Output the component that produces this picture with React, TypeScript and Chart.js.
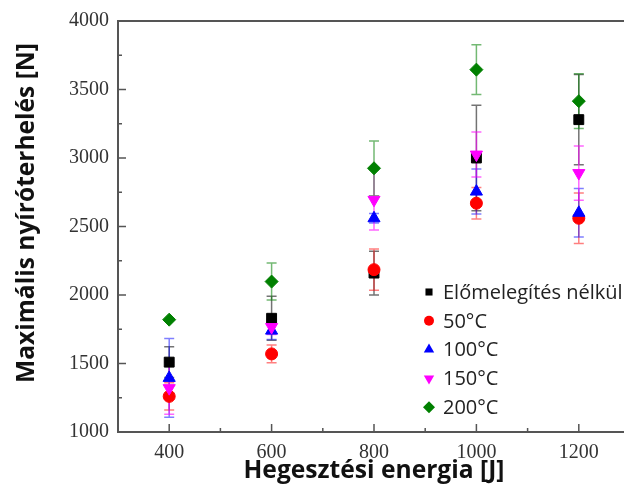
import { useEffect, useRef } from "react";
import { Chart, registerables } from "chart.js";

Chart.register(...registerables);

// Welding energy [J]
const energies = [400, 600, 800, 1000, 1200];
const xTicks = [400, 600, 800, 1000, 1200];

const seriesNames = ["Előmelegítés nélkül", "50°C", "100°C", "150°C", "200°C"];

// Maximum shear load [N] and standard deviation per preheat temperature
const noPreheat = [1510, 1830, 2160, 3000, 3280];
const noPreheatErr = [112, 160, 160, 385, 330];
const temp50 = [1260, 1570, 2185, 2670, 2560];
const temp50Err = [100, 65, 150, 115, 184];
const temp100 = [1395, 1740, 2560, 2755, 2600];
const temp100Err = [288, 65, 35, 164, 177];
const temp150 = [1320, 1766, 2695, 3025, 2890];
const temp150Err = [190, 55, 220, 164, 198];
const temp200 = [1820, 2098, 2925, 3645, 3415];
const temp200Err = [0, 135, 200, 182, 200];

const values = [noPreheat, temp50, temp100, temp150, temp200];
const errors = [noPreheatErr, temp50Err, temp100Err, temp150Err, temp200Err];

const colors = ["#000000", "#ff0000", "#0000ff", "#ff00ff", "#008000"];
const errColors = [
  "rgba(0,0,0,0.55)",
  "rgba(255,0,0,0.5)",
  "rgba(0,0,255,0.5)",
  "rgba(255,0,255,0.6)",
  "rgba(0,128,0,0.55)",
];
const styles = ["rect", "circle", "triangle", "triangle", "rectRot"];
const rotations = [0, 0, 0, 180, 0];
const radii = [7, 6, 7, 7, 6.5];
const legendRadii = [5, 5, 6, 6, 6];

const axisColor = "#555";

function drawMarker(ctx: CanvasRenderingContext2D, style: string, rot: number, r: number, x: number, y: number) {
  ctx.beginPath();
  if (style === "rect") {
    const s = Math.SQRT1_2 * r;
    ctx.rect(x - s, y - s, 2 * s, 2 * s);
  } else if (style === "circle") {
    ctx.arc(x, y, r, 0, Math.PI * 2);
  } else if (style === "triangle") {
    const base = (rot * Math.PI) / 180 - Math.PI / 2;
    for (let k = 0; k < 3; k++) {
      const ang = base + (k * 2 * Math.PI) / 3;
      const px = x + Math.cos(ang) * r;
      const py = y + Math.sin(ang) * r;
      if (k === 0) ctx.moveTo(px, py);
      else ctx.lineTo(px, py);
    }
    ctx.closePath();
  } else {
    ctx.moveTo(x - r, y);
    ctx.lineTo(x, y - r);
    ctx.lineTo(x + r, y);
    ctx.lineTo(x, y + r);
    ctx.closePath();
  }
  ctx.fill();
}

function fitFont(ctx: CanvasRenderingContext2D, text: string, target: number, base: number, weight: string) {
  ctx.font = `${weight} ${base}px "Open Sans"`;
  const w = ctx.measureText(text).width;
  const size = Math.max(16, Math.min(28, (base * target) / w));
  ctx.font = `${weight} ${size}px "Open Sans"`;
}

const errorBarPlugin = {
  id: "errorBars",
  beforeDatasetsDraw(chart: any) {
    const { ctx } = chart;
    const xs = chart.scales.x;
    const ys = chart.scales.y;
    ctx.save();
    ctx.lineWidth = 1.5;
    values.forEach((series, i) => {
      ctx.strokeStyle = errColors[i];
      series.forEach((v, j) => {
        const e = errors[i][j];
        if (!e) return;
        const px = xs.getPixelForValue(energies[j]);
        const top = ys.getPixelForValue(v + e);
        const bot = ys.getPixelForValue(v - e);
        ctx.beginPath();
        ctx.moveTo(px, top);
        ctx.lineTo(px, bot);
        ctx.moveTo(px - 5, top);
        ctx.lineTo(px + 5, top);
        ctx.moveTo(px - 5, bot);
        ctx.lineTo(px + 5, bot);
        ctx.stroke();
      });
    });
    ctx.restore();
  },
};

const framePlugin = {
  id: "frame",
  afterDraw(chart: any) {
    const { ctx, chartArea: a } = chart;
    const xs = chart.scales.x;
    const ys = chart.scales.y;
    ctx.save();
    ctx.strokeStyle = axisColor;
    ctx.lineWidth = 2;
    ctx.strokeRect(a.left, a.top, a.right - a.left, a.bottom - a.top);

    // inward ticks, major and minor
    ctx.lineWidth = 1.5;
    ctx.beginPath();
    for (let v = 400; v <= 1200; v += 100) {
      const px = xs.getPixelForValue(v);
      const len = (v - 400) % 200 === 0 ? 8 : 4;
      ctx.moveTo(px, a.bottom);
      ctx.lineTo(px, a.bottom - len);
    }
    for (let v = 1250; v < 4000; v += 250) {
      const py = ys.getPixelForValue(v);
      const len = v % 500 === 0 ? 8 : 4;
      ctx.moveTo(a.left, py);
      ctx.lineTo(a.left + len, py);
    }
    ctx.stroke();

    // axis titles
    ctx.fillStyle = "#111";
    ctx.textAlign = "center";
    ctx.textBaseline = "alphabetic";
    const xTitle = "Hegesztési energia [J]";
    fitFont(ctx, xTitle, 261, 22, "bold");
    ctx.fillText(xTitle, 374, 478);

    ctx.save();
    ctx.translate(27, 213);
    ctx.rotate(-Math.PI / 2);
    ctx.textBaseline = "middle";
    const yTitle = "Maximális nyíróterhelés [N]";
    fitFont(ctx, yTitle, 340, 21, "bold");
    ctx.fillText(yTitle, 0, 0);
    ctx.restore();

    // legend
    const lx = 429;
    const ly0 = 292;
    const step = 28.8;
    ctx.font = '20px "Open Sans"';
    ctx.textAlign = "left";
    ctx.textBaseline = "middle";
    seriesNames.forEach((name, i) => {
      const y = ly0 + i * step;
      ctx.fillStyle = colors[i];
      drawMarker(ctx, styles[i], rotations[i], legendRadii[i], lx, y);
      ctx.fillStyle = "#222";
      ctx.fillText(name, 443, y + 1);
    });
    ctx.restore();
  },
};

export default function App() {
  const ref = useRef<HTMLCanvasElement>(null);

  useEffect(() => {
    document.body.style.margin = "0";
    const canvas = ref.current;
    if (!canvas) return;
    const chart = new Chart(canvas, {
      type: "scatter",
      data: {
        datasets: values.map((series, i) => ({
          label: seriesNames[i],
          data: series.map((v, j) => ({ x: energies[j], y: v })),
          backgroundColor: colors[i],
          borderColor: colors[i],
          borderWidth: 1,
          pointStyle: styles[i] as any,
          rotation: rotations[i],
          pointRadius: radii[i],
          showLine: false,
          order: values.length - i,
        })),
      },
      options: {
        animation: false,
        responsive: false,
        devicePixelRatio: 1,
        layout: { padding: { left: 0, top: 20, right: 10, bottom: 0 } },
        plugins: {
          legend: { display: false },
          tooltip: { enabled: false },
        },
        scales: {
          x: {
            type: "linear",
            min: 300,
            max: 1300,
            grid: { display: false, drawTicks: false },
            border: { display: false },
            afterBuildTicks: (s: any) => {
              s.ticks = xTicks.map((v) => ({ value: v }));
            },
            afterFit: (s: any) => {
              s.height = 57;
            },
            ticks: {
              padding: 9,
              color: "#333",
              font: { family: '"Liberation Serif"', size: 20 },
              maxRotation: 0,
              callback: (v: any) => String(v),
            },
          },
          y: {
            type: "linear",
            min: 1000,
            max: 4000,
            grid: { display: false, drawTicks: false },
            border: { display: false },
            afterFit: (s: any) => {
              s.width = 118;
            },
            ticks: {
              stepSize: 500,
              padding: 9,
              color: "#333",
              font: { family: '"Liberation Serif"', size: 20 },
              callback: (v: any) => String(v),
            },
          },
        },
      },
      plugins: [errorBarPlugin, framePlugin],
    });
    return () => chart.destroy();
  }, []);

  return (
    <div style={{ position: "fixed", left: 0, top: 0, width: 624, height: 489, overflow: "hidden", background: "#fff" }}>
      <canvas ref={ref} width={640} height={489} style={{ display: "block" }} />
    </div>
  );
}
